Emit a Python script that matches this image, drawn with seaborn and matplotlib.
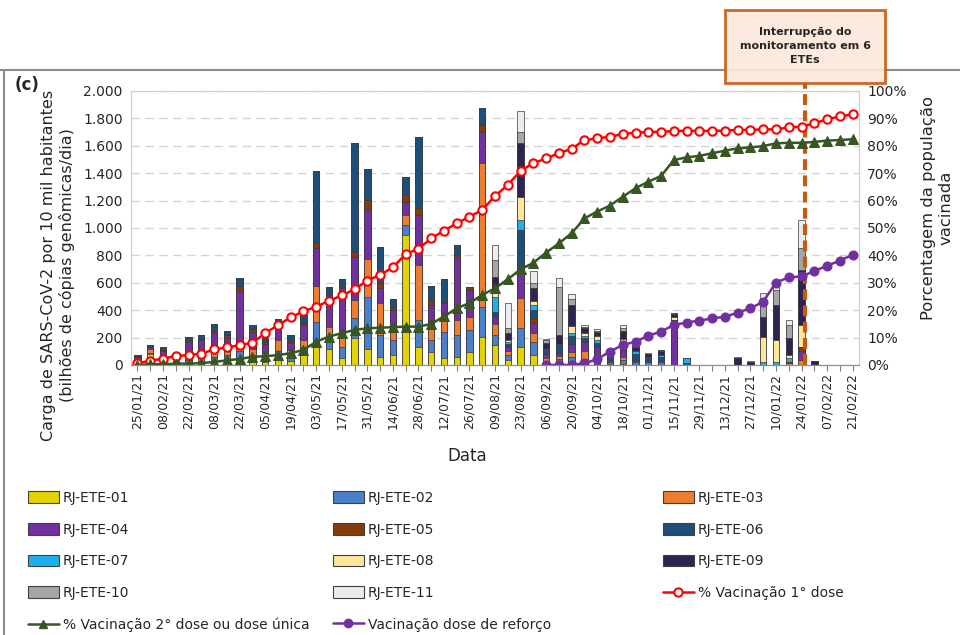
import numpy as np
import pandas as pd
import matplotlib
matplotlib.use('Agg')
import matplotlib.pyplot as plt
from matplotlib.patches import Patch, Rectangle
from matplotlib.lines import Line2D
from matplotlib.ticker import FuncFormatter
import seaborn as sns

# weekly samples, 25/01/21 .. 21/02/22
weeks = pd.date_range('2021-01-25', '2022-02-21', freq='7D')
week_labels = [d.strftime('%d/%m/%y') for d in weeks]

stations = ['RJ-ETE-01', 'RJ-ETE-02', 'RJ-ETE-03', 'RJ-ETE-04', 'RJ-ETE-05', 'RJ-ETE-06',
            'RJ-ETE-07', 'RJ-ETE-08', 'RJ-ETE-09', 'RJ-ETE-10', 'RJ-ETE-11']
station_colors = ['#E3D400', '#4A7FCB', '#ED7D31', '#7030A0', '#843C0C', '#1F4E79',
                  '#1EB0EC', '#FFE699', '#2F2451', '#A6A6A6', '#ECECEC']

# viral load (bilhões de cópias genômicas/dia por 10 mil hab.)
ete01 = [15, 80, 20, 5, 15, 10, 30, 30, 40, 30, 20, 40, 30, 90, 134, 120, 50, 195, 120, 60,
         73, 950, 134, 97, 49, 56, 97, 207, 146, 40, 134, 70, 10, 15, 15, 15, 10, 5, 10, 0,
         0, 0, 0, 0, 0, 0, 0, 0, 0, 0, 0, 0, 0, 0, 0, 0, 0]
ete02 = [10, 10, 20, 5, 25, 20, 30, 40, 60, 40, 30, 60, 30, 40, 182, 73, 85, 146, 377, 160,
         110, 73, 195, 85, 195, 163, 158, 219, 75, 30, 134, 100, 20, 30, 40, 30, 40, 15, 30, 20,
         20, 20, 0, 0, 0, 0, 0, 0, 0, 0, 0, 0, 0, 0, 0, 0, 0]
ete03 = [25, 30, 30, 10, 20, 20, 90, 90, 70, 50, 40, 80, 50, 50, 260, 85, 60, 134, 280, 230,
         73, 73, 401, 97, 97, 110, 97, 1046, 80, 30, 219, 60, 20, 20, 40, 60, 30, 0, 20, 0,
         0, 0, 0, 0, 0, 0, 0, 0, 0, 0, 0, 12, 40, 0, 0, 0, 0]
ete04 = [10, 10, 30, 5, 110, 130, 80, 40, 370, 120, 60, 90, 50, 110, 275, 207, 370, 316, 353, 110,
         146, 97, 365, 158, 110, 462, 195, 231, 50, 30, 207, 80, 30, 20, 60, 60, 50, 20, 50, 20,
         0, 0, 320, 0, 0, 0, 0, 0, 0, 0, 0, 0, 61, 0, 0, 0, 0]
ete05 = [5, 0, 10, 0, 10, 10, 20, 20, 40, 20, 15, 20, 15, 15, 41, 12, 15, 36, 73, 40,
         24, 49, 49, 41, 10, 12, 23, 49, 0, 0, 0, 30, 0, 0, 0, 0, 0, 0, 0, 0,
         0, 0, 10, 0, 0, 0, 0, 0, 0, 0, 0, 12, 33, 0, 0, 0, 0]
ete06 = [10, 15, 20, 5, 25, 30, 50, 30, 55, 35, 35, 45, 45, 60, 525, 73, 48, 790, 229, 262,
         54, 129, 518, 97, 166, 73, 0, 122, 34, 20, 292, 60, 30, 60, 60, 30, 30, 20, 40, 40,
         30, 40, 0, 15, 0, 0, 0, 0, 0, 0, 0, 0, 0, 0, 0, 0, 0]
ete07 = [0, 0, 0, 0, 0, 0, 0, 0, 0, 0, 0, 0, 0, 0, 0, 0, 0, 0, 0, 0,
         0, 0, 0, 0, 0, 0, 0, 0, 110, 15, 73, 40, 10, 10, 20, 15, 20, 10, 20, 20,
         10, 10, 0, 35, 0, 0, 0, 0, 0, 24, 24, 24, 0, 0, 0, 0, 0]
ete08 = [0, 0, 0, 0, 0, 0, 0, 0, 0, 0, 0, 0, 0, 0, 0, 0, 0, 0, 0, 0,
         0, 0, 0, 0, 0, 0, 0, 0, 30, 15, 170, 30, 0, 0, 49, 20, 30, 0, 20, 0,
         0, 0, 20, 0, 0, 0, 0, 0, 0, 182, 158, 24, 158, 0, 0, 0, 0]
ete09 = [0, 0, 0, 0, 0, 0, 0, 0, 0, 0, 0, 0, 0, 0, 0, 0, 0, 0, 0, 0,
         0, 0, 0, 0, 0, 0, 0, 0, 120, 55, 389, 90, 40, 61, 153, 40, 30, 30, 60, 30,
         20, 30, 20, 0, 0, 0, 0, 50, 20, 146, 255, 122, 401, 30, 0, 0, 0]
ete10 = [0, 0, 0, 0, 0, 0, 0, 0, 0, 0, 0, 0, 0, 0, 0, 0, 0, 0, 0, 0,
         0, 0, 0, 0, 0, 0, 0, 0, 120, 35, 85, 40, 20, 353, 46, 10, 10, 0, 20, 10,
         0, 10, 10, 0, 0, 0, 0, 0, 0, 75, 110, 97, 160, 0, 0, 0, 0]
ete11 = [0, 0, 0, 0, 0, 0, 0, 0, 0, 0, 0, 0, 0, 0, 0, 0, 0, 0, 0, 0,
         0, 0, 0, 0, 0, 0, 0, 0, 110, 180, 151, 85, 10, 66, 37, 10, 10, 10, 20, 5,
         5, 0, 0, 0, 0, 0, 0, 10, 10, 98, 20, 40, 207, 0, 0, 0, 0]

# vaccination coverage (%)
dose1 = [0.6, 1.6, 2.3, 3.3, 3.6, 4.1, 5.7, 6.4, 7.2, 8.1, 11.6, 14.5, 17.4, 19.6, 21.3, 23.4,
         25.4, 27.6, 30.8, 32.9, 35.6, 40.5, 42.4, 46.2, 49.0, 51.7, 54.1, 56.6, 61.7, 65.7,
         70.9, 73.6, 75.4, 77.3, 78.9, 82.1, 82.7, 83.3, 84.3, 84.8, 85.0, 85.1, 85.4, 85.5,
         85.4, 85.5, 85.5, 85.8, 85.8, 86.0, 86.0, 86.7, 87.0, 88.2, 89.7, 90.7, 91.5]
dose2 = [0, 0.2, 0.3, 0.5, 0.5, 0.7, 1.1, 1.7, 2.2, 3.0, 3.2, 3.6, 4.3, 5.5, 8.5, 10.4,
         11.6, 12.8, 13.4, 13.6, 13.8, 14.0, 14.0, 15.0, 17.7, 20.7, 22.6, 25.6, 28.0, 31.3,
         34.9, 37.3, 41.0, 44.4, 48.1, 53.5, 56.0, 58.2, 61.4, 64.5, 66.9, 69.0, 74.8, 75.8,
         76.3, 77.3, 78.2, 79.1, 79.4, 79.9, 80.9, 81.1, 81.1, 81.4, 81.9, 82.1, 82.4]
# booster starts on 06/09/21
booster = [0, 0, 0, 0.6, 2.1, 4.9, 7.3, 8.5, 10.7, 12.2, 14.6, 15.5, 16.2, 17.0, 17.6,
           19.1, 20.7, 23.1, 30.1, 32.0, 32.3, 34.3, 36.2, 38.1, 40.2]

sns.set_style('white')
plt.rcParams['font.family'] = ['DejaVu Sans']

fig = plt.figure(figsize=(9.6, 6.35), dpi=100)
ax = fig.add_axes([0.1365, 0.4252, 0.7583, 0.4315])

loads = pd.DataFrame(dict(zip(stations, [ete01, ete02, ete03, ete04, ete05, ete06,
                                         ete07, ete08, ete09, ete10, ete11])), index=week_labels)
cum = loads.cumsum(axis=1)
# stacked bars: draw cumulative totals from the top layer down
for name, col in reversed(list(zip(stations, station_colors))):
    sns.barplot(x=week_labels, y=cum[name].values, order=week_labels, color=col,
                saturation=1, width=0.5, edgecolor='#3a3a3a', linewidth=0.5,
                errorbar=None, ax=ax)

ax.set_ylim(0, 2000)
ax.set_yticks(range(0, 2001, 200))
ax.yaxis.set_major_formatter(FuncFormatter(lambda v, p: f'{int(v):,}'.replace(',', '.')))
ax.yaxis.grid(True, linestyle=(0, (6, 4)), color='#D4D4D4', lw=1)
ax.set_axisbelow(True)
ax.set_xticks(range(len(week_labels)))
ax.set_xticklabels([lab if i % 2 == 0 else '' for i, lab in enumerate(week_labels)],
                   rotation=90, fontsize=9)
ax.tick_params(axis='x', length=4, width=0.8, color='#808080', pad=2, bottom=True)
ax.tick_params(axis='y', length=0, labelsize=10, pad=6)
ax.set_ylabel('')
ax.set_xlabel('Data', fontsize=12)
ax.xaxis.set_label_coords(0.4615, -0.30)
fig.text(58 / 960, 1 - 265 / 635,
         'Carga de SARS-CoV-2 por 10 mil habitantes\n(bilhões de cópias genômicas/dia)',
         rotation=90, ha='center', va='center', fontsize=11.5, multialignment='center')

ax2 = ax.twinx()
pos = np.arange(len(week_labels))
sns.lineplot(x=pos, y=dose1, ax=ax2, color='#FF0000', lw=1.8, marker='o', markersize=6,
             markerfacecolor='white', markeredgecolor='#FF0000', markeredgewidth=1.5, legend=False)
sns.lineplot(x=pos, y=dose2, ax=ax2, color='#375623', lw=1.8, marker='^', markersize=6.5,
             markerfacecolor='#375623', markeredgecolor='#375623', legend=False)
sns.lineplot(x=pos[-len(booster):], y=booster, ax=ax2, color='#7030A0', lw=1.8, marker='o',
             markersize=6.5, markerfacecolor='#7030A0', markeredgecolor='#7030A0', legend=False)
ax2.set_ylim(0, 100)
ax2.set_yticks(range(0, 101, 10))
ax2.yaxis.set_major_formatter(FuncFormatter(lambda v, p: f'{int(v)}%'))
ax2.tick_params(axis='y', length=0, labelsize=10, pad=6)
ax2.set_ylabel('')
fig.text(937 / 960, 1 - 208 / 635, 'Porcentagem da população\nvacinada', rotation=90,
         ha='center', va='center', fontsize=11.8, multialignment='center')
ax.set_xlim(-0.5, len(week_labels) - 0.5)

for a in (ax, ax2):
    for s in a.spines.values():
        s.set_color('#D0D0D0')
    a.spines['bottom'].set_color('#909090')

# interruption marker
ax.plot([52.25, 52.25], [0, 2058], color='#C55A11', lw=3, linestyle=(0, (2.6, 1.3)),
        clip_on=False, zorder=5)
fig.add_artist(Line2D([0, 1], [1 - 70 / 635] * 2, color='#8C8C8C', lw=1.5,
                      transform=fig.transFigure))
fig.add_artist(Line2D([4 / 960] * 2, [0, 1 - 70 / 635], color='#8C8C8C', lw=1.5,
                      transform=fig.transFigure))
fig.add_artist(Rectangle((725 / 960, 1 - 83 / 635), 160 / 960, 73 / 635, transform=fig.transFigure,
                         facecolor='#FBE8DA', edgecolor='#C55A11', lw=2, alpha=0.9, zorder=3))
fig.text(805 / 960, 1 - 46 / 635, 'Interrupção do\nmonitoramento em 6\nETEs', ha='center',
         va='center', fontsize=8, fontweight='bold', linespacing=1.5, zorder=4)
fig.text(15 / 960, 1 - 85 / 635, '(c)', fontsize=12, fontweight='bold', va='center')

# legend, three columns
bar_h = [Patch(facecolor=c, edgecolor='#404040', lw=0.8, label=s)
         for s, c in zip(stations, station_colors)]
h1 = Line2D([], [], color='#FF0000', lw=1.8, marker='o', markersize=6, markerfacecolor='white',
            markeredgewidth=1.5, label='% Vacinação 1° dose')
h2 = Line2D([], [], color='#375623', lw=1.8, marker='^', markersize=6,
            label='% Vacinação 2° dose ou dose única')
h3 = Line2D([], [], color='#7030A0', lw=1.8, marker='o', markersize=6,
            label='Vacinação dose de reforço')
columns = [[bar_h[0], bar_h[3], bar_h[6], bar_h[9], h2],
           [bar_h[1], bar_h[4], bar_h[7], bar_h[10], h3],
           [bar_h[2], bar_h[5], bar_h[8], h1]]
for xs, hs in zip([28, 333, 663], columns):
    fig.legend(handles=hs, loc='upper left', bbox_to_anchor=(xs / 960, 1 - 491 / 635),
               frameon=False, fontsize=10, borderpad=0, borderaxespad=0, handlelength=2.2,
               handleheight=0.95, handletextpad=0.3, labelspacing=1.27)

fig.savefig('out.png', dpi=100)
